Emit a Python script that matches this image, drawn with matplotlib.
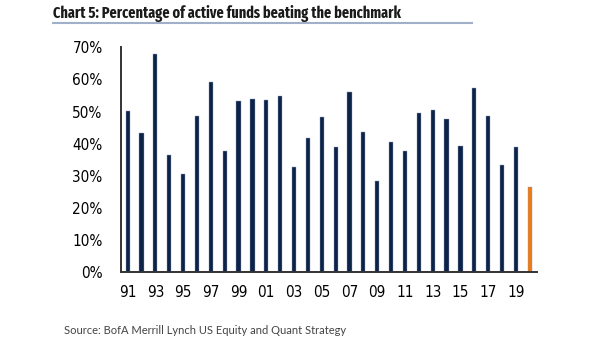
import numpy as np
import matplotlib

matplotlib.use("Agg")
import matplotlib.pyplot as plt
from matplotlib import font_manager
from matplotlib.lines import Line2D

years = list(range(1991, 2021))
pct = [50.3, 43.2, 67.8, 36.4, 30.5, 48.7, 59.1, 37.7, 53.4, 53.8,
       53.7, 55.0, 32.7, 41.7, 48.4, 38.9, 56.1, 43.8, 28.4, 40.6,
       37.8, 49.5, 50.6, 47.8, 39.4, 57.4, 48.7, 33.3, 38.9, 26.4]
tick_years = years[::2]

navy = "#0c2348"
orange = "#ee7a10"
colors = [navy] * (len(years) - 1) + [orange]


def squeeze_rank(f):
    s = str(f.stretch).lower()
    n = f.name.lower()
    if "extra" in s or "ultra" in s or "extracondensed" in n.replace(" ", ""):
        return 3
    if "semi" in s or "semicondensed" in n.replace(" ", ""):
        return 1
    if "condensed" in s or "condensed" in n or "narrow" in n:
        return 2
    return 0


def pick_font(bold, want_rank):
    want = 700 if bold else 400
    best = None
    for f in font_manager.fontManager.ttflist:
        r = squeeze_rank(f)
        if r == 0 or f.style != "normal":
            continue
        w = f.weight if isinstance(f.weight, int) else (700 if "bold" in str(f.weight) else 400)
        score = abs(w - want) + 60 * abs(r - want_rank)
        if best is None or score < best[0]:
            best = (score, f.fname)
    if best is not None:
        return font_manager.FontProperties(fname=best[1])
    return font_manager.FontProperties(family="Liberation Sans",
                                       weight="bold" if bold else "normal")


tick_fp = pick_font(False, 2)
title_fp = pick_font(True, 3)
tick_fp.set_size(11)
title_fp.set_size(12.5)

fig = plt.figure(figsize=(6.05, 3.41), dpi=100)
ax = fig.add_axes([120.7 / 605, 68.7 / 341, 416 / 605, 225 / 341])

x = np.arange(len(years))
ax.bar(x, pct, width=0.3, color=colors, edgecolor="#8fa0bf", linewidth=0.3)

ax.set_xlim(-0.5, len(years) - 0.5)
ax.set_ylim(0, 70)
ax.set_yticks(range(0, 71, 10))
ax.set_yticklabels([f"{v}%" for v in range(0, 71, 10)], fontproperties=tick_fp)
ax.set_xticks(x[::2])
ax.set_xticklabels([f"{y % 100:02d}" for y in tick_years], fontproperties=tick_fp)
ax.tick_params(axis="both", length=0, colors="#000000")
ax.tick_params(axis="x", pad=9)
ax.tick_params(axis="y", pad=13)

for s in ["top", "right"]:
    ax.spines[s].set_visible(False)
for s in ["left", "bottom"]:
    ax.spines[s].set_color("#333333")
    ax.spines[s].set_linewidth(1.4)

title = fig.text(53 / 605, 1 - 13 / 341, "Chart 5: Percentage of active funds beating the benchmark",
                 fontproperties=title_fp, color="#1a1a1a", ha="left", va="center")
# shrink title so it spans the same width as in the original (~350 px)
fig.canvas.draw()
w = title.get_window_extent().width
if w > 355:
    title.set_fontsize(12.5 * 350 / w)

fig.add_artist(Line2D([53 / 605, 472 / 605], [1 - 22.7 / 341] * 2,
                      color="#9fb0c8", linewidth=1.5))

fig.text(64 / 605, 1 - 330 / 341, "Source: BofA Merrill Lynch US Equity and Quant Strategy",
         family=["Lato", "DejaVu Sans"], fontsize=8, color="#444444",
         ha="left", va="center")

fig.savefig("out.png", dpi=100)
